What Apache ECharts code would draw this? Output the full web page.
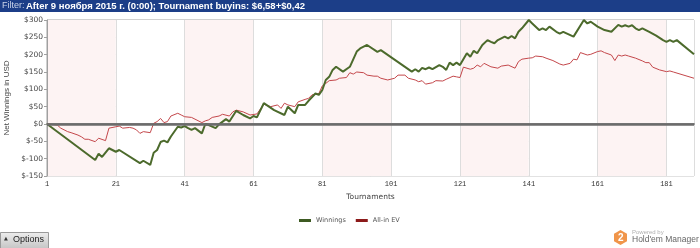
<!DOCTYPE html>
<html>
<head>
<meta charset="utf-8">
<script src="https://cdn.jsdelivr.net/npm/echarts@6/dist/echarts.min.js"></script>
<style>
html,body{margin:0;padding:0;background:#fff;}
#chart{width:700px;height:248px;}
</style>
</head>
<body>
<div id="chart"></div>
<script>
// Tournament number, net winnings (USD) at vertices
const winnings = [[1,0],[15,-104],[16,-86],[17,-95],[19,-70],[21,-80],[22,-75],[28,-113],[29,-106],[31,-118],[32,-83],[33,-75],[34,-52],[35,-48],[36,-53],[37,-36],[39,-8],[40,-10],[41,-6],[42,-12],[43,-17],[44,-12],[46,-27],[47,0],[48,-3],[50,-12],[51,-1],[53,14],[54,7],[56,38],[58,26],[60,16],[61,23],[62,19],[64,60],[67,40],[70,26],[71,50],[73,31],[74,55],[76,55],[77,67],[79,88],[80,84],[81,98],[82,127],[83,136],[84,156],[85,165],[87,151],[89,165],[91,209],[92,218],[94,228],[97,208],[98,213],[107,151],[108,158],[109,151],[110,162],[111,158],[112,163],[113,158],[115,170],[116,165],[117,156],[118,177],[119,170],[120,177],[121,170],[123,204],[124,194],[125,211],[126,204],[127.5,228],[129,242],[130,237],[131,233],[132,242],[134,252],[135,247],[136,254],[137,247],[138,266],[139,276],[141,300],[142,290],[144,271],[145,276],[146,271],[147,281],[149,266],[150,261],[151,266],[154,252],[157,300],[158,290],[159,295],[161,281],[163,271],[165,266],[167,286],[168,281],[169,285],[170,281],[171,285],[172,276],[173,271],[174,276],[176,266],[178,255],[180,242],[181,237],[182,242],[183,237],[184,242],[189,201]];
const allInEV = [[1,0],[4,-3],[5,-12],[7,-22],[8,-25],[10,-32],[11,-37],[12,-44],[13,-44],[15,-51],[16,-41],[18,-48],[19,-12],[21,-8],[22,-6],[23,-12],[25,-10],[26,-12],[27,-17],[28,-27],[29,-22],[31,-25],[32,2],[33,7],[34,16],[35,4],[36,7],[37,23],[39,31],[40,26],[41,21],[43,19],[44,14],[46,4],[47,9],[48,12],[49,19],[51,23],[52,28],[54,23],[55,35],[56,40],[58,35],[60,26],[62,29],[64,57],[66,50],[68,55],[69,45],[70,60],[71,55],[73,50],[74,64],[76,71],[77,74],[78,84],[80,88],[81,110],[82,117],[83,125],[85,127],[86,132],[88,134],[89,148],[90,144],[91,150],[93,148],[94,141],[96,138],[97,138],[98,132],[100,127],[102,132],[103,141],[105,141],[106,132],[108,127],[109,122],[110,125],[111,115],[113,119],[114,125],[116,124],[117,129],[119,138],[120,136],[121,134],[122,164],[124,158],[125,161],[126,170],[127,165],[128,175],[130,165],[132,161],[133,167],[135,170],[137,161],[138,180],[139,187],[141,190],[142,191],[143,196],[145,194],[146,190],[148,183],[150,173],[151,170],[153,175],[154,187],[155,185],[156,206],[158,199],[159,201],[161,209],[162,211],[163,206],[165,199],[166,183],[167,199],[168,196],[169,199],[170,196],[172,190],[174,182],[175,177],[176,177],[177,164],[179,156],[181,151],[182,153],[183,150],[189,132]];
const seriesNames = ['Winnings', 'All-in EV'];
const headerFilterLabel = 'Filter: ';
const headerText = 'After 9 ноября 2015 г. (0:00); Tournament buyins: $6,58+$0,42';

const chart = echarts.init(document.getElementById('chart'), null, {renderer: 'canvas'});
const toXY = arr => arr.map(p => [p[0] - 1, p[1]]); // axis offset so ticks land on 1, 21, 41...

const option = {
  animation: false,
  backgroundColor: '#ffffff',
  grid: {left: 47, right: 6, top: 20, bottom: 72, containLabel: false, outerBoundsMode: 'none',
    show: true, borderColor: '#a0a0a0', borderWidth: 1, backgroundColor: 'transparent'},
  legend: {
    data: [
      {name: seriesNames[0], itemStyle: {color: '#3d5a22'}},
      {name: seriesNames[1], itemStyle: {color: '#8c1a1a'}}
    ],
    left: 294, top: 212, icon: 'rect', itemWidth: 12, itemHeight: 3, itemGap: 10,
    textStyle: {fontFamily: 'DejaVu Sans', fontSize: 6.5, color: '#555'}
  },
  xAxis: {
    type: 'value', min: 0, max: 188, interval: 20,
    name: 'Tournaments', nameLocation: 'middle', nameGap: 14,
    nameTextStyle: {fontFamily: 'DejaVu Sans', fontSize: 7.5, color: '#444'},
    axisLine: {show: true, lineStyle: {color: '#8a8a8a', width: 2}},
    axisTick: {show: false},
    axisLabel: {formatter: v => String(v + 1), showMaxLabel: false, fontFamily: 'Liberation Mono', fontSize: 7, color: '#333', margin: 5},
    splitLine: {show: true, lineStyle: {color: '#dddddd', width: 1}},
    splitArea: {show: true, areaStyle: {color: ['#fdf3f3', '#ffffff']}}
  },
  yAxis: {
    type: 'value', min: -150, max: 300, interval: 50,
    name: 'Net Winnings in USD', nameLocation: 'middle', nameGap: 29,
    nameTextStyle: {fontFamily: 'Liberation Sans', fontSize: 8, color: '#444'},
    axisLine: {show: true, lineStyle: {color: '#a0a0a0', width: 1}},
    axisTick: {show: true, length: 3, lineStyle: {color: '#a0a0a0'}},
    axisLabel: {formatter: v => '$' + v, fontFamily: 'DejaVu Sans', fontSize: 7.5, color: '#444', margin: 4},
    splitLine: {show: true, lineStyle: {color: '#e2e2e2', width: 1}}
  },
  series: [
    {
      name: seriesNames[1], type: 'line', data: toXY(allInEV), showSymbol: false, symbol: 'none',
      lineStyle: {color: '#c4474b', width: 1}, itemStyle: {color: '#8c1a1a'}, z: 3,
      markLine: {silent: true, symbol: 'none', label: {show: false},
        lineStyle: {color: '#6b6b6b', width: 2.5, type: 'solid'}, data: [{yAxis: 0}]}
    },
    {
      name: seriesNames[0], type: 'line', data: toXY(winnings), showSymbol: false, symbol: 'none',
      lineStyle: {color: '#4c6a2c', width: 2}, itemStyle: {color: '#3d5a22'}, z: 4
    }
  ],
  graphic: [
    {type: 'rect', left: 0, top: 0, z: 10, shape: {width: 700, height: 12}, style: {fill: '#1c3e88'}},
    {type: 'text', left: 2, top: 1, z: 11, style: {text: headerFilterLabel, fill: '#c9d3e8', font: '9px "Liberation Sans"'}},
    {type: 'text', left: 26, top: 1, z: 11, style: {text: headerText, fill: '#ffffff', font: 'bold 9.5px "Liberation Sans"'}},
    {type: 'rect', left: 0, top: 232, z: 10, shape: {width: 48, height: 16}, style: {
      fill: new echarts.graphic.LinearGradient(0, 0, 0, 1, [{offset: 0, color: '#eeeeee'}, {offset: 1, color: '#c4c4c4'}]),
      stroke: '#9a9a9a', lineWidth: 1}},
    {type: 'text', left: 4, top: 236, z: 11, style: {text: '▲', fill: '#333', font: '5px "DejaVu Sans"'}},
    {type: 'text', left: 13, top: 235, z: 11, style: {text: 'Options', fill: '#222', font: '9px "Liberation Sans"'}},
    {type: 'polygon', z: 10, shape: {points: [[620.5, 230], [627, 233.7], [627, 241.3], [620.5, 245], [614, 241.3], [614, 233.7]]}, style: {fill: '#f0954a'}},
    {type: 'text', left: 618, top: 233, z: 11, style: {text: '2', fill: '#ffffff', font: 'bold 10px "Liberation Sans"'}},
    {type: 'text', left: 632, top: 229, z: 11, style: {text: 'Powered by', fill: '#b0b0b0', font: '6px "Liberation Sans"'}},
    {type: 'text', left: 632, top: 235, z: 11, style: {text: "Hold'em Manager", fill: '#666666', font: '8.5px "Liberation Sans"'}}
  ]
};
chart.setOption(option);
</script>
</body>
</html>
